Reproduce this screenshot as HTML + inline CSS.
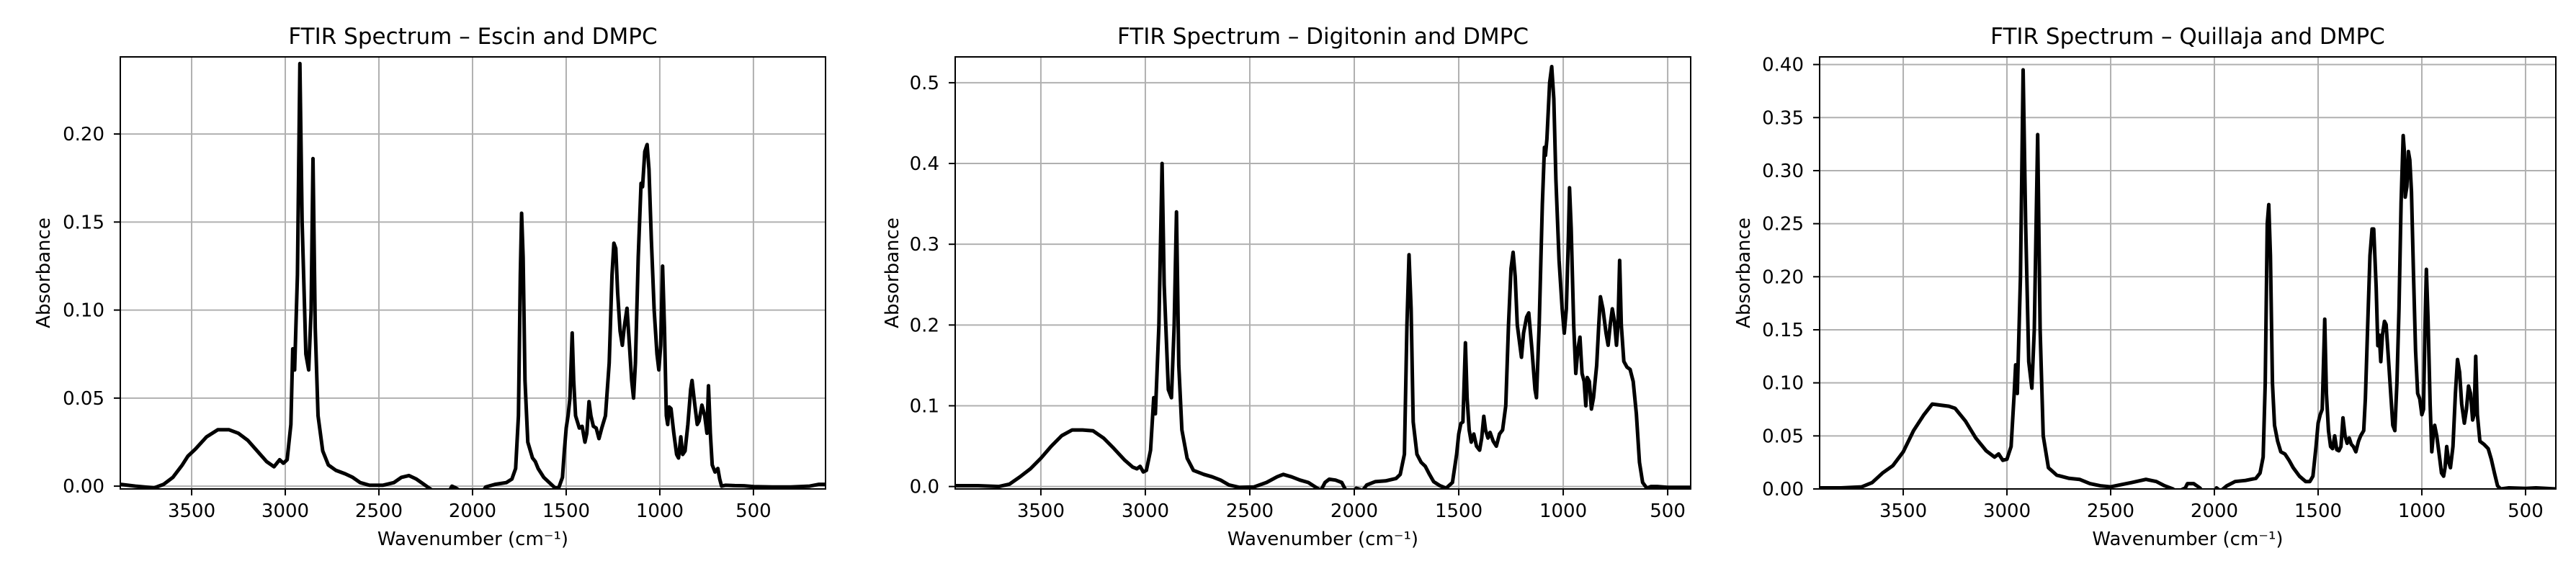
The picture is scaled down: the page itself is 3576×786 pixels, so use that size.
<!DOCTYPE html>
<html><head><meta charset="utf-8"><style>
html,body{margin:0;padding:0;background:#fff;width:3576px;height:786px;overflow:hidden}
svg{display:block}
text{font-family:"DejaVu Sans","Liberation Sans",sans-serif;fill:#000}
</style></head><body>
<svg id="fig" width="3576" height="786" viewBox="0 0 3576 786" xmlns="http://www.w3.org/2000/svg"></svg>
<script>
// ---- data (wavenumber, absorbance) ----
const escinWn = [3880,3800,3700,3650,3600,3550,3520,3480,3420,3360,3300,3250,3200,3150,3100,3060,3030,3010,2990,2970,2960,2950,2935,2922,2910,2890,2875,2862,2852,2840,2825,2800,2770,2730,2680,2640,2600,2550,2480,2420,2380,2340,2300,2260,2220,2200,2130,2110,2090,2050,1950,1930,1880,1820,1790,1770,1755,1745,1738,1730,1720,1705,1680,1665,1650,1620,1590,1560,1540,1520,1510,1500,1490,1480,1468,1460,1450,1430,1415,1400,1390,1378,1368,1355,1340,1325,1310,1290,1270,1255,1245,1235,1225,1212,1200,1190,1175,1165,1150,1140,1130,1115,1100,1092,1080,1068,1058,1045,1030,1015,1005,995,985,975,965,958,950,940,925,910,900,888,878,865,850,835,828,815,800,790,775,760,748,740,730,720,705,690,680,670,650,600,550,500,400,300,200,150,115];
const escinAbs = [0.001,0.0,-0.001,0.001,0.005,0.012,0.017,0.021,0.028,0.032,0.032,0.030,0.026,0.020,0.014,0.011,0.015,0.013,0.015,0.035,0.078,0.066,0.12,0.24,0.15,0.075,0.066,0.10,0.186,0.09,0.04,0.02,0.012,0.009,0.007,0.005,0.002,0.0005,0.0005,0.002,0.005,0.006,0.004,0.001,-0.002,-0.004,-0.004,0.0,-0.001,-0.004,-0.004,-0.0005,0.001,0.002,0.004,0.01,0.04,0.12,0.155,0.13,0.06,0.025,0.016,0.014,0.010,0.005,0.002,-0.001,-0.001,0.005,0.02,0.033,0.04,0.05,0.087,0.06,0.04,0.033,0.034,0.025,0.03,0.048,0.04,0.034,0.033,0.027,0.033,0.04,0.07,0.12,0.138,0.135,0.11,0.088,0.08,0.09,0.101,0.085,0.06,0.05,0.07,0.13,0.172,0.17,0.19,0.194,0.18,0.14,0.10,0.075,0.066,0.08,0.125,0.09,0.04,0.035,0.045,0.044,0.03,0.018,0.016,0.028,0.018,0.02,0.035,0.055,0.06,0.048,0.035,0.037,0.046,0.04,0.030,0.057,0.03,0.012,0.008,0.01,0.004,0.0,0.0005,0.0003,0.0002,-0.0003,-0.0005,-0.0005,0.0,0.001,0.001];

const digWn = [3910,3800,3700,3650,3600,3550,3500,3450,3400,3350,3300,3250,3200,3150,3100,3060,3040,3025,3010,2995,2975,2960,2952,2935,2920,2910,2890,2875,2862,2851,2840,2825,2800,2770,2720,2680,2640,2600,2550,2480,2420,2370,2340,2300,2260,2220,2190,2160,2140,2120,2090,2060,2040,2010,1990,1960,1940,1900,1850,1800,1780,1760,1748,1738,1728,1718,1700,1680,1660,1640,1620,1590,1560,1530,1510,1500,1490,1480,1468,1460,1450,1440,1428,1415,1400,1390,1380,1372,1360,1350,1335,1320,1305,1290,1275,1262,1250,1240,1230,1220,1210,1200,1190,1175,1165,1150,1135,1128,1115,1100,1090,1085,1078,1065,1055,1045,1035,1020,1005,995,985,975,970,962,950,940,930,920,910,900,892,885,875,865,855,840,830,822,810,795,785,775,765,755,745,738,730,722,710,695,680,665,650,635,620,600,580,550,500,450,390];
const digAbs = [0.001,0.001,0.0,0.003,0.012,0.022,0.035,0.05,0.063,0.070,0.070,0.069,0.06,0.047,0.033,0.024,0.022,0.025,0.018,0.02,0.045,0.11,0.09,0.2,0.40,0.25,0.12,0.11,0.2,0.34,0.15,0.07,0.035,0.02,0.015,0.012,0.008,0.002,-0.001,-0.0005,0.005,0.012,0.015,0.012,0.008,0.005,0.0,-0.005,0.005,0.009,0.008,0.005,-0.005,-0.01,-0.002,-0.005,0.002,0.006,0.007,0.01,0.015,0.04,0.2,0.287,0.22,0.08,0.04,0.03,0.025,0.015,0.006,0.001,-0.002,0.005,0.04,0.065,0.078,0.08,0.178,0.11,0.07,0.055,0.065,0.05,0.045,0.06,0.087,0.07,0.06,0.067,0.056,0.05,0.065,0.07,0.1,0.2,0.27,0.29,0.26,0.2,0.18,0.16,0.19,0.21,0.215,0.17,0.12,0.11,0.2,0.35,0.42,0.41,0.43,0.5,0.52,0.48,0.38,0.28,0.22,0.19,0.22,0.31,0.37,0.32,0.2,0.14,0.17,0.185,0.14,0.13,0.10,0.135,0.13,0.096,0.11,0.15,0.2,0.235,0.22,0.19,0.175,0.2,0.22,0.205,0.175,0.2,0.28,0.2,0.155,0.148,0.145,0.13,0.09,0.03,0.005,-0.002,0.0,0.0,-0.001,-0.001,-0.001];

const quilWn = [3900,3800,3700,3650,3600,3550,3500,3450,3400,3360,3320,3280,3250,3200,3150,3100,3060,3040,3020,3000,2980,2965,2958,2950,2935,2922,2910,2895,2880,2868,2852,2840,2825,2800,2760,2700,2650,2600,2550,2500,2450,2400,2330,2280,2240,2200,2180,2140,2130,2100,2070,2050,2000,1990,1970,1940,1900,1850,1800,1780,1765,1755,1745,1738,1730,1720,1710,1695,1680,1660,1640,1620,1590,1560,1540,1525,1510,1500,1490,1480,1468,1460,1450,1440,1430,1420,1410,1400,1390,1380,1370,1360,1350,1340,1330,1318,1305,1295,1280,1272,1260,1250,1240,1232,1220,1212,1205,1198,1190,1180,1172,1160,1150,1140,1130,1120,1110,1100,1090,1085,1080,1072,1065,1058,1050,1040,1030,1020,1010,1000,992,985,978,970,960,952,945,938,928,918,905,895,888,880,870,862,850,838,828,818,808,795,785,775,765,755,748,740,732,720,700,680,665,650,635,620,580,500,450,400,354];
const quilAbs = [0.001,0.001,0.002,0.006,0.015,0.022,0.035,0.055,0.07,0.08,0.079,0.078,0.076,0.064,0.048,0.036,0.03,0.033,0.027,0.028,0.04,0.09,0.117,0.09,0.2,0.395,0.25,0.12,0.095,0.15,0.334,0.15,0.05,0.02,0.013,0.01,0.009,0.005,0.003,0.002,0.004,0.006,0.009,0.007,0.003,0.0,-0.003,0.001,0.005,0.005,0.001,-0.004,-0.004,0.001,-0.002,0.003,0.007,0.008,0.01,0.015,0.03,0.1,0.25,0.268,0.22,0.1,0.06,0.045,0.035,0.033,0.027,0.02,0.012,0.007,0.007,0.012,0.04,0.062,0.07,0.075,0.16,0.09,0.055,0.04,0.038,0.05,0.037,0.036,0.04,0.067,0.05,0.043,0.048,0.042,0.04,0.035,0.045,0.05,0.055,0.085,0.16,0.22,0.245,0.245,0.19,0.135,0.145,0.12,0.145,0.158,0.155,0.12,0.09,0.06,0.055,0.1,0.17,0.27,0.333,0.32,0.275,0.285,0.318,0.31,0.28,0.2,0.13,0.09,0.085,0.07,0.075,0.15,0.207,0.16,0.08,0.035,0.05,0.06,0.05,0.035,0.015,0.012,0.02,0.04,0.025,0.02,0.04,0.09,0.122,0.11,0.08,0.062,0.075,0.097,0.09,0.065,0.07,0.125,0.07,0.045,0.042,0.038,0.028,0.015,0.003,0.0,0.001,0.0005,0.001,0.0005,0.0];

const titles = ["FTIR Spectrum – Escin and DMPC","FTIR Spectrum – Digitonin and DMPC","FTIR Spectrum – Quillaja and DMPC"];
const xTicks = [3500,3000,2500,2000,1500,1000,500];
const yTicks1 = [0.00,0.05,0.10,0.15,0.20];
const yTicks2 = [0.0,0.1,0.2,0.3,0.4,0.5];
const yTicks3 = [0.00,0.05,0.10,0.15,0.20,0.25,0.30,0.35,0.40];

const panels = [
  {key:'escin', wn:escinWn, ab:escinAbs, L:167, R:1146, xmax:3881, xmin:115, ymin:-0.0016, ymax:0.2438, yt:yTicks1, dec:2, ylx:60},
  {key:'digitonin', wn:digWn, ab:digAbs, L:1326, R:2347, xmax:3910, xmin:390, ymin:-0.003, ymax:0.532, yt:yTicks2, dec:1, ylx:1238},
  {key:'quillaja', wn:quilWn, ab:quilAbs, L:2526, R:3548, xmax:3903, xmin:354, ymin:0.0, ymax:0.4072, yt:yTicks3, dec:2, ylx:2420}
];
const T=79, B=679;
const NS='http://www.w3.org/2000/svg';
const fig=document.getElementById('fig');
function mk(tag,attrs,parent){const e=document.createElementNS(NS,tag);for(const k in attrs)e.setAttribute(k,attrs[k]);(parent||fig).appendChild(e);return e;}

panels.forEach((p,i)=>{
  const sx=v=>p.L+(p.xmax-v)/(p.xmax-p.xmin)*(p.R-p.L);
  const sy=v=>B-(v-p.ymin)/(p.ymax-p.ymin)*(B-T);
  const g=mk('g',{});
  
  
  const cp=mk('clipPath',{id:'clip'+i},g);
  mk('rect',{x:p.L,y:T,width:p.R-p.L,height:B-T},cp);
  // grid
  xTicks.forEach(t=>{const x=sx(t);if(x<p.L||x>p.R)return;
    const l=mk('line',{x1:x,x2:x,y1:T,y2:B,stroke:'#b0b0b0','stroke-width':2},g);
    
    
    const tk=mk('line',{x1:x,x2:x,y1:B,y2:B+9,stroke:'#000','stroke-width':2},g);
    
    
    const tx=mk('text',{x:x,y:718,'font-size':26,'text-anchor':'middle'},g);tx.textContent=t;
    
    
  });
  p.yt.forEach(t=>{const y=sy(t);
    const l=mk('line',{x1:p.L,x2:p.R,y1:y,y2:y,stroke:'#b0b0b0','stroke-width':2},g);
    
    
    const tk=mk('line',{x1:p.L-9,x2:p.L,y1:y,y2:y,stroke:'#000','stroke-width':2},g);
    
    
    const tx=mk('text',{x:p.L-22,y:y+9,'font-size':26,'text-anchor':'end'},g);tx.textContent=t.toFixed(p.dec);
    
    
  });
  // series
  const pts=p.wn.map((w,j)=>sx(w).toFixed(1)+','+sy(p.ab[j]).toFixed(1)).join(' ');
  const pl=mk('polyline',{points:pts,fill:'none',stroke:'#000','stroke-width':5,'stroke-linejoin':'round','clip-path':'url(#clip'+i+')'},g);
  
  
  // frame
  const fr=mk('rect',{x:p.L,y:T,width:p.R-p.L,height:B-T,fill:'none',stroke:'#000','stroke-width':2},g);
  
  
  const ti=mk('text',{x:(p.L+p.R)/2,y:61,'font-size':31,'text-anchor':'middle'},g);ti.textContent=titles[i];
  
  
  const xl=mk('text',{x:(p.L+p.R)/2,y:757,'font-size':26,'text-anchor':'middle'},g);xl.textContent='Wavenumber (cm⁻¹)';
  
  
  const yl=mk('text',{x:0,y:0,'font-size':26,'text-anchor':'middle',transform:'translate('+(p.ylx+9)+','+((T+B)/2)+') rotate(-90)'},g);yl.textContent='Absorbance';
  
  
});
</script>
</body></html>
